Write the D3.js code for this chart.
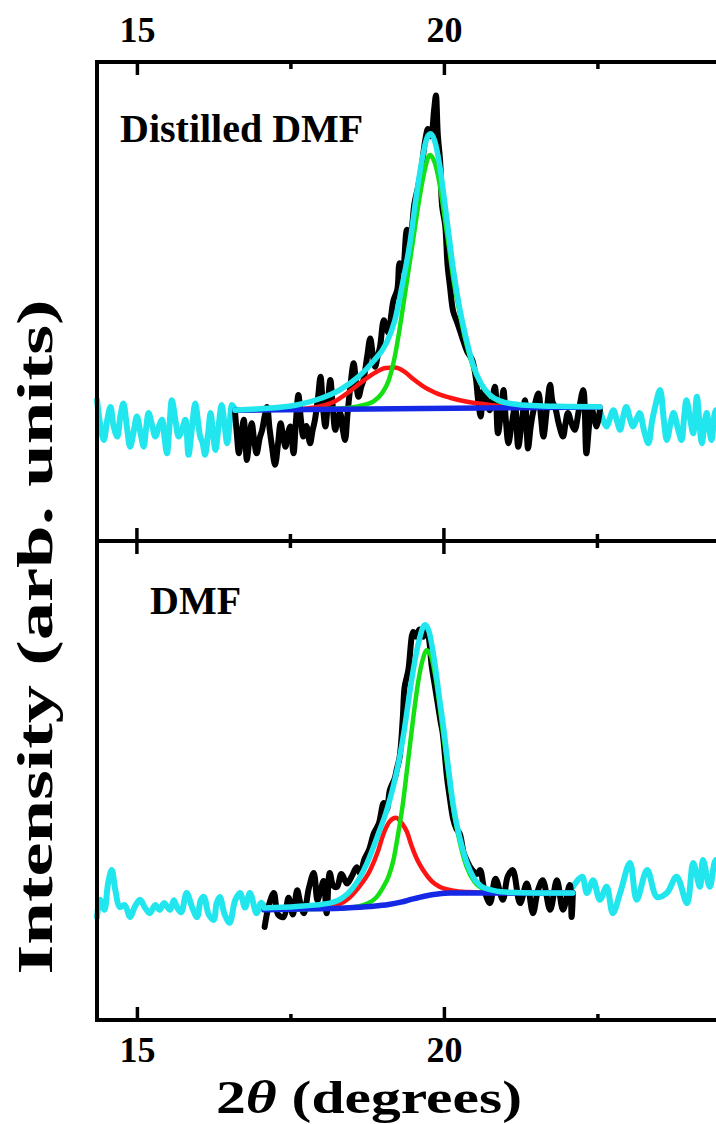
<!DOCTYPE html>
<html>
<head>
<meta charset="utf-8">
<script src="https://cdn.jsdelivr.net/npm/d3@7"></script>
<style>
  html, body { margin: 0; padding: 0; background: #fff; }
  svg { display: block; }
</style>
</head>
<body>
<div id="chart"></div>
<script>
// x ticks (degrees)
const majorTicks = [15, 20];
const minorTicks = [17.5, 22.5];
const panelNames = ['Distilled DMF', 'DMF'];

// ---- Distilled DMF (upper panel), [2theta, intensity] ----
const distCyanLeft = [[14.35,29.4],[14.40,24.5],[14.46,21.1],[14.52,25.5],[14.57,28.0],[14.62,24.0],[14.68,21.8],[14.73,26.0],[14.78,28.7],[14.84,23.5],[14.89,19.7],[14.95,23.0],[15.00,26.0],[15.06,22.5],[15.11,19.7],[15.15,23.5],[15.19,26.7],[15.25,24.0],[15.30,21.8],[15.36,24.0],[15.41,25.3],[15.45,21.5],[15.49,18.3],[15.53,24.0],[15.57,29.4],[15.63,25.0],[15.68,21.8],[15.74,23.5],[15.79,25.3],[15.84,18.0],[15.90,24.0],[15.95,28.7],[16.00,24.5],[16.03,21.8],[16.07,20.5],[16.11,18.0],[16.16,22.5],[16.20,26.7],[16.24,22.5],[16.28,19.0],[16.33,24.0],[16.38,28.4],[16.43,24.0],[16.47,20.4],[16.51,24.5],[16.55,28.4],[16.60,27.4]];
const distBlack = [[16.60,26.7],[16.63,22.0],[16.66,18.3],[16.70,22.0],[16.74,25.3],[16.77,20.5],[16.79,16.9],[16.83,21.0],[16.87,24.6],[16.91,21.0],[16.95,18.3],[17.00,21.5],[17.04,23.2],[17.08,26.0],[17.12,28.0],[17.16,23.5],[17.20,19.7],[17.25,15.9],[17.30,20.5],[17.34,24.6],[17.38,22.0],[17.42,19.7],[17.46,22.5],[17.50,23.9],[17.55,18.3],[17.59,25.0],[17.63,30.5],[17.67,25.5],[17.71,21.8],[17.76,24.0],[17.82,20.4],[17.86,23.0],[17.90,25.3],[17.95,30.0],[17.99,34.3],[18.03,28.0],[18.07,23.9],[18.11,29.0],[18.15,33.6],[18.19,28.0],[18.23,23.2],[18.27,25.5],[18.31,26.7],[18.35,23.5],[18.39,21.1],[18.43,26.5],[18.47,31.5],[18.53,37.1],[18.57,33.0],[18.61,30.1],[18.65,32.0],[18.69,33.6],[18.75,38.5],[18.80,42.3],[18.84,39.0],[18.88,36.4],[18.92,38.5],[18.96,40.6],[19.02,46.1],[19.06,44.5],[19.10,43.4],[19.14,47.0],[19.18,50.3],[19.24,52.4],[19.28,58.0],[19.33,56.5],[19.40,65.0],[19.45,63.5],[19.52,70.5],[19.58,74.0],[19.63,77.5],[19.70,84.0],[19.74,86.0],[19.79,84.5],[19.84,90.0],[19.87,93.0],[19.90,85.0],[19.94,79.0],[19.97,70.0],[20.02,66.0],[20.06,57.5],[20.10,53.0],[20.15,48.0],[20.22,45.5],[20.31,42.0],[20.38,39.5],[20.46,37.8],[20.52,34.0],[20.56,29.0],[20.60,26.0],[20.64,31.5],[20.70,29.0],[20.75,27.3],[20.83,32.2],[20.88,22.5],[20.93,27.0],[20.97,31.5],[21.01,25.0],[21.05,20.4],[21.10,24.0],[21.16,28.0],[21.21,19.7],[21.27,25.0],[21.32,29.4],[21.37,19.3],[21.41,23.5],[21.45,26.7],[21.54,30.8],[21.58,26.0],[21.62,21.8],[21.68,28.0],[21.73,32.6],[21.77,29.0],[21.81,28.0],[21.87,24.5],[21.94,21.8],[21.98,24.5],[22.02,26.7],[22.08,24.5],[22.13,23.2],[22.20,27.5],[22.27,31.5],[22.32,18.3],[22.36,23.5],[22.40,28.0],[22.45,25.5],[22.49,23.9],[22.54,27.3]];
const distCyanRight = [[22.54,27.3],[22.60,25.0],[22.65,23.9],[22.70,25.5],[22.76,27.3],[22.82,25.0],[22.87,23.2],[22.92,26.0],[22.97,28.0],[23.03,25.5],[23.08,23.9],[23.14,25.5],[23.19,26.7],[23.26,23.0],[23.33,20.4],[23.39,25.0],[23.44,28.0],[23.52,31.5],[23.58,25.5],[23.63,21.1],[23.69,24.5],[23.74,26.7],[23.81,23.5],[23.87,21.1],[23.91,25.5],[23.95,29.4],[24.01,25.5],[24.06,22.5],[24.12,30.1],[24.16,25.0],[24.20,20.4],[24.24,24.0],[24.28,26.7],[24.32,23.5],[24.36,21.1],[24.43,27.3],[24.55,24.0],[24.70,27.0]];
const distFit = [[16.60,27.3],[17.0,27.6],[17.6,28.4],[18.0,29.8],[18.3,31.5],[18.6,34.2],[18.85,37.5],[19.05,41.0],[19.2,46.0],[19.33,54.0],[19.45,62.5],[19.55,72.0],[19.65,80.0],[19.72,84.0],[19.78,85.0],[19.85,83.5],[19.93,78.5],[20.0,72.0],[20.08,64.0],[20.15,57.0],[20.25,49.0],[20.35,43.0],[20.47,37.0],[20.6,33.0],[20.75,30.5],[20.9,29.3],[21.2,28.5],[21.6,28.2],[22.0,28.1],[22.54,28.0]];
const distGreen = [[16.60,27.3],[17.5,27.4],[18.2,27.6],[18.5,27.9],[18.7,28.4],[18.86,29.2],[19.0,31.0],[19.1,33.5],[19.2,38.5],[19.3,46.0],[19.4,54.5],[19.5,63.0],[19.6,71.5],[19.68,77.0],[19.77,80.6],[19.85,79.0],[19.93,74.5],[20.0,68.5],[20.08,61.5],[20.15,55.0],[20.25,48.0],[20.35,42.0],[20.47,36.5],[20.6,32.8],[20.75,30.3],[20.9,29.2],[21.2,28.4],[21.6,28.1],[22.54,28.0]];
const distRed = [[16.60,27.3],[17.5,27.5],[17.9,27.9],[18.2,29.0],[18.47,31.3],[18.7,33.6],[18.9,35.3],[19.05,36.1],[19.2,36.2],[19.35,35.4],[19.5,33.8],[19.65,32.4],[19.85,31.0],[20.1,29.9],[20.4,29.0],[20.64,28.6],[20.9,28.2],[21.5,28.0],[22.54,28.0]];
const distBlue = [[16.60,27.3],[22.54,28.0]];

// ---- DMF (lower panel) ----
const dmfCyanLeft = [[14.35,21.5],[14.40,25.1],[14.47,23.0],[14.53,28.5],[14.59,31.3],[14.65,27.0],[14.72,23.6],[14.80,24.0],[14.89,21.5],[14.96,23.5],[15.05,25.1],[15.13,23.5],[15.21,22.3],[15.30,24.0],[15.37,23.0],[15.44,24.4],[15.54,23.0],[15.60,25.0],[15.65,23.6],[15.72,22.5],[15.81,26.5],[15.90,23.5],[15.98,21.5],[16.04,25.0],[16.09,25.7],[16.17,22.0],[16.25,20.9],[16.30,24.5],[16.35,25.7],[16.43,22.0],[16.51,20.3],[16.60,25.0],[16.68,26.5],[16.76,23.5],[16.84,26.5],[16.95,22.3],[17.02,24.5],[17.08,23.6]];
const dmfBlack = [[17.08,19.4],[17.15,24.0],[17.23,26.5],[17.30,22.0],[17.39,21.5],[17.47,25.5],[17.54,22.0],[17.61,27.1],[17.66,24.5],[17.72,22.3],[17.80,27.5],[17.88,30.7],[17.94,25.0],[17.98,26.5],[18.04,29.0],[18.09,22.3],[18.14,30.7],[18.20,28.0],[18.26,27.8],[18.33,30.5],[18.42,28.5],[18.50,30.0],[18.58,31.9],[18.64,30.5],[18.70,33.4],[18.78,35.5],[18.86,39.0],[18.94,41.0],[19.02,45.3],[19.07,44.0],[19.12,48.0],[19.20,50.5],[19.23,52.2],[19.28,55.0],[19.33,63.0],[19.36,69.5],[19.42,73.0],[19.50,81.0],[19.55,80.0],[19.60,81.5],[19.66,80.0],[19.70,81.5],[19.75,80.0],[19.80,74.0],[19.85,70.0],[19.90,66.0],[19.95,62.0],[19.98,59.9],[20.05,50.7],[20.10,46.0],[20.15,42.0],[20.20,40.0],[20.26,38.8],[20.32,35.0],[20.37,33.4],[20.45,31.5],[20.54,30.5],[20.59,31.3],[20.66,27.0],[20.75,24.4],[20.84,29.5],[20.96,25.1],[21.04,30.0],[21.12,31.3],[21.24,24.4],[21.35,28.5],[21.45,22.3],[21.53,27.0],[21.61,29.2],[21.73,23.0],[21.84,29.2],[21.94,23.0],[22.05,28.2],[22.08,21.5],[22.10,26.5]];
const dmfCyanRight = [[22.10,27.8],[22.25,29.9],[22.33,26.5],[22.43,29.2],[22.54,25.1],[22.65,27.8],[22.75,22.3],[22.87,26.5],[23.03,32.8],[23.14,25.1],[23.31,31.3],[23.47,25.7],[23.63,26.5],[23.79,29.9],[23.96,24.4],[24.06,32.8],[24.17,27.8],[24.22,33.4],[24.33,27.8],[24.43,33.4],[24.60,28.0]];
const dmfFit = [[17.07,23.4],[17.6,23.7],[18.14,24.4],[18.35,25.5],[18.5,27.3],[18.62,29.5],[18.75,32.8],[18.85,36.0],[18.95,39.5],[19.05,43.0],[19.15,47.5],[19.25,53.0],[19.36,61.0],[19.45,69.0],[19.52,74.5],[19.60,79.5],[19.69,82.5],[19.76,81.0],[19.84,75.5],[19.93,67.0],[20.0,60.5],[20.07,53.0],[20.15,45.0],[20.25,38.5],[20.37,33.0],[20.48,29.8],[20.6,28.0],[20.75,27.2],[21.0,26.7],[21.5,26.5],[22.10,26.5]];
const dmfGreen = [[17.07,23.0],[18.0,23.2],[18.5,23.5],[18.75,24.3],[18.9,25.6],[19.0,27.5],[19.1,30.0],[19.18,33.5],[19.25,38.5],[19.33,45.0],[19.42,54.5],[19.5,63.0],[19.58,70.5],[19.65,75.0],[19.72,77.2],[19.79,76.0],[19.87,71.0],[19.95,63.5],[20.03,55.5],[20.1,48.5],[20.18,42.0],[20.27,36.5],[20.37,32.0],[20.5,28.8],[20.65,27.3],[20.85,26.7],[21.2,26.5],[22.10,26.5]];
const dmfRed = [[17.07,23.0],[17.8,23.2],[18.2,23.8],[18.42,25.1],[18.6,27.5],[18.8,31.3],[18.92,35.0],[19.02,39.0],[19.12,41.5],[19.22,42.2],[19.32,41.0],[19.40,39.2],[19.47,36.5],[19.56,33.6],[19.66,31.3],[19.8,29.0],[19.93,27.8],[20.15,27.0],[20.4,26.7],[20.9,26.5],[22.10,26.5]];
const dmfBlue = [[17.07,23.0],[17.8,23.2],[18.4,23.4],[18.8,23.7],[19.1,24.1],[19.3,24.6],[19.5,25.3],[19.7,25.9],[19.9,26.3],[20.1,26.5],[22.10,26.5]];

const W = 716, H = 1124;
const plotLeft = 97, plotTop = 62, plotMid = 541, plotBottom = 1020;
const serif = '"Liberation Serif", "Times New Roman", serif';

const svg = d3.select('#chart').append('svg')
    .attr('width', W).attr('height', H)
    .attr('viewBox', `0 0 ${W} ${H}`);
svg.append('rect').attr('width', W).attr('height', H).attr('fill', '#fff');

// right end of the frame lies outside the cropped picture
const x = d3.scaleLinear().domain([14.35, 25]).range([plotLeft, plotLeft + 61.4 * (25 - 14.35)]);
const yTop = d3.scaleLinear().domain([0, 100]).range([plotMid, plotTop]);
const yBot = d3.scaleLinear().domain([0, 100]).range([plotBottom, plotMid]);
const xRight = x(25);

const colors = { black: '#000', cyan: '#22e6ee', green: '#14e014', red: '#ff1414', blue: '#1428e6' };

function drawPanel(y, s) {
    const noise = d3.line().x(d => x(d[0])).y(d => y(d[1])).curve(d3.curveCatmullRom.alpha(0.5));
    const smooth = d3.line().x(d => x(d[0])).y(d => y(d[1])).curve(d3.curveMonotoneX);
    const g = svg.append('g').attr('fill', 'none').attr('stroke-linejoin', 'round').attr('stroke-linecap', 'round');
    g.append('path').attr('d', noise(s.cyanLeft)).attr('stroke', colors.cyan).attr('stroke-width', 6);
    g.append('path').attr('d', noise(s.cyanRight)).attr('stroke', colors.cyan).attr('stroke-width', 6);
    g.append('path').attr('d', noise(s.black)).attr('stroke', colors.black).attr('stroke-width', 6);
    g.append('path').attr('d', smooth(s.red)).attr('stroke', colors.red).attr('stroke-width', 4.5);
    g.append('path').attr('d', smooth(s.green)).attr('stroke', colors.green).attr('stroke-width', 4.5);
    g.append('path').attr('d', smooth(s.blue)).attr('stroke', colors.blue).attr('stroke-width', 5.5);
    g.append('path').attr('d', smooth(s.fit)).attr('stroke', colors.cyan).attr('stroke-width', 5.5);
}

drawPanel(yTop, { cyanLeft: distCyanLeft, black: distBlack, cyanRight: distCyanRight, fit: distFit, green: distGreen, red: distRed, blue: distBlue });
drawPanel(yBot, { cyanLeft: dmfCyanLeft, black: dmfBlack, cyanRight: dmfCyanRight, fit: dmfFit, green: dmfGreen, red: dmfRed, blue: dmfBlue });

// frame
const frame = svg.append('g').attr('stroke', '#000').attr('stroke-width', 4).attr('fill', 'none');
frame.append('rect').attr('x', plotLeft).attr('y', plotTop).attr('width', xRight - plotLeft).attr('height', plotBottom - plotTop);
frame.append('line').attr('x1', plotLeft).attr('x2', xRight).attr('y1', plotMid).attr('y2', plotMid);

// top axis: ticks inward, labels above
const topAxis = svg.append('g').attr('transform', `translate(0,${plotTop})`)
    .call(d3.axisTop(x).tickValues(majorTicks).tickSize(-13).tickPadding(20).tickFormat(d3.format('d')));
const topMinor = svg.append('g').attr('transform', `translate(0,${plotTop})`)
    .call(d3.axisTop(x).tickValues(minorTicks).tickSize(-7).tickFormat(''));
const botAxis = svg.append('g').attr('transform', `translate(0,${plotBottom})`)
    .call(d3.axisBottom(x).tickValues(majorTicks).tickSize(-13).tickPadding(42).tickFormat(d3.format('d')));
const botMinor = svg.append('g').attr('transform', `translate(0,${plotBottom})`)
    .call(d3.axisBottom(x).tickValues(minorTicks).tickSize(-6).tickFormat(''));
[topAxis, topMinor, botAxis, botMinor].forEach(a => {
    a.select('.domain').remove();
    a.selectAll('.tick line').attr('stroke', '#000').attr('stroke-width', 3.5);
    a.selectAll('.tick text').attr('fill', '#000')
        .style('font-family', serif).style('font-weight', 'bold').style('font-size', '36px');
});
botAxis.selectAll('.tick text').attr('dy', null);

// ticks on the shared middle line (both sides)
svg.append('g').selectAll('line')
    .data(majorTicks.map(v => ({ v, len: 13 })).concat(minorTicks.map(v => ({ v, len: 7 }))))
    .join('line')
    .attr('x1', d => x(d.v)).attr('x2', d => x(d.v))
    .attr('y1', d => plotMid - d.len).attr('y2', d => plotMid + d.len)
    .attr('stroke', '#000').attr('stroke-width', 3.5);

// panel labels
svg.append('text').attr('x', 120).attr('y', 142).text(panelNames[0])
    .style('font-family', serif).style('font-weight', 'bold').style('font-size', '40px');
svg.append('text').attr('x', 150).attr('y', 614).text(panelNames[1])
    .style('font-family', serif).style('font-weight', 'bold').style('font-size', '40px');

// axis titles
const xt = svg.append('text').attr('x', 369).attr('y', 1113).attr('text-anchor', 'middle')
    .attr('textLength', 306).attr('lengthAdjust', 'spacingAndGlyphs')
    .style('font-family', serif).style('font-weight', 'bold').style('font-size', '46px');
xt.append('tspan').text('2');
xt.append('tspan').style('font-style', 'italic').text('\u03B8');
xt.append('tspan').text(' (degrees)');

svg.append('text')
    .attr('transform', 'translate(52,637) rotate(-90)')
    .attr('text-anchor', 'middle')
    .attr('textLength', 675).attr('lengthAdjust', 'spacingAndGlyphs')
    .style('font-family', serif).style('font-weight', 'bold').style('font-size', '50px')
    .text('Intensity (arb. units)');
</script>
</body>
</html>
